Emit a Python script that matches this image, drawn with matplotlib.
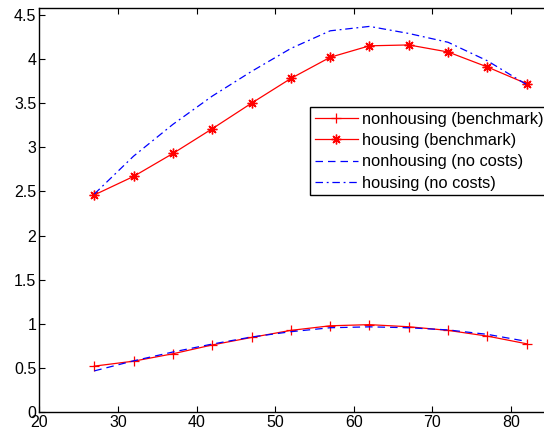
import matplotlib as mpl
mpl.use('Agg')
import matplotlib.pyplot as plt

# age grid and the four consumption profiles
age = [27, 32, 37, 42, 47, 52, 57, 62, 67, 72, 77, 82]

nonhousing_bench = [0.52, 0.576, 0.66, 0.76, 0.845, 0.925, 0.977, 0.99, 0.966, 0.925, 0.86, 0.773]
housing_bench = [2.46, 2.67, 2.93, 3.21, 3.50, 3.78, 4.02, 4.15, 4.16, 4.08, 3.91, 3.72]
nonhousing_nocost = [0.466, 0.58, 0.68, 0.77, 0.85, 0.91, 0.955, 0.965, 0.955, 0.93, 0.88, 0.80]
housing_nocost = [2.47, 2.90, 3.26, 3.58, 3.86, 4.12, 4.32, 4.37, 4.29, 4.19, 3.98, 3.71]

plt.rcParams['font.family'] = ['Liberation Sans', 'DejaVu Sans']

fig = plt.figure(figsize=(5.44, 4.33), dpi=100)
ax = fig.add_axes([0.0722, 0.0485, 0.9278, 0.9325])

ax.plot(age, nonhousing_bench, color='red', linewidth=0.9, marker='+', markersize=7,
        markeredgewidth=0.9, label='nonhousing (benchmark)')
ax.plot(age, housing_bench, color='red', linewidth=0.9, marker=(8, 2, 0), markersize=7,
        markeredgewidth=1.0, label='housing (benchmark)')
ax.plot(age, nonhousing_nocost, color='blue', linewidth=0.9, linestyle=(0, (6, 4)),
        label='nonhousing (no costs)')
ax.plot(age, housing_nocost, color='blue', linewidth=0.9, linestyle=(0, (6, 3, 1.5, 3)),
        label='housing (no costs)')

ax.set_xlim(20, 84.2)
ax.set_ylim(0, 4.576)
ax.set_xticks([20, 30, 40, 50, 60, 70, 80])
ax.set_yticks([0, 0.5, 1, 1.5, 2, 2.5, 3, 3.5, 4, 4.5])
ax.set_yticklabels(['0', '0.5', '1', '1.5', '2', '2.5', '3', '3.5', '4', '4.5'])

ax.spines['right'].set_visible(False)
for s in ['left', 'bottom', 'top']:
    ax.spines[s].set_linewidth(1.0)
ax.tick_params(direction='in', length=4, width=0.8, labelsize=11.5, top=True, pad=2)

leg = ax.legend(loc='upper left', bbox_to_anchor=(0.570, 0.753), bbox_transform=fig.transFigure,
                borderaxespad=0, fontsize=11.8, fancybox=False, framealpha=1,
                edgecolor='black', handlelength=2.6, handletextpad=0.25,
                labelspacing=0.38, borderpad=0.3)
leg.get_frame().set_linewidth(1.0)

plt.savefig('out.png', dpi=100)
plt.close()
